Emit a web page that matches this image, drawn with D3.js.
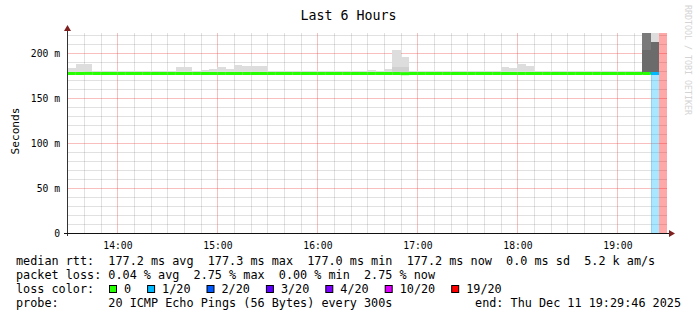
<!DOCTYPE html>
<html>
<head>
<meta charset="utf-8">
<style>
  body { margin: 0; background: #fff; }
  svg { display: block; }
  text { font-family: "DejaVu Sans Mono", monospace; fill: #000; }
</style>
</head>
<body>
<div id="container"></div>
<script src="https://cdn.jsdelivr.net/npm/d3@7"></script>
<script>

const width = 697;
const height = 321;

// plot area (canvas) in pixels
const plot = { left: 67, right: 667, top: 33, bottom: 233 };

// time range of the graph
const tStart = new Date(2025, 11, 11, 13, 29, 46);
const tEnd = new Date(2025, 11, 11, 19, 29, 46);

// 5 minute rrd steps (start of each step), 13:30 .. 19:25
const slots = d3.timeMinute.every(5).range(new Date(2025, 11, 11, 13, 30), new Date(2025, 11, 11, 19, 30));

// median rtt per step, ms
const median = [
  177.2, 177.2, 177.3, 177.2, 177.2, 177.2, 177.2, 177.2, 177.2, 177.2, 177.2, 177.2,
  177.2, 177.2, 177.2, 177.2, 177.2, 177.2, 177.2, 177.2, 177.2, 177.2, 177.2, 177.2,
  177.2, 177.2, 177.2, 177.2, 177.2, 177.2, 177.2, 177.2, 177.2, 177.2, 177.2, 177.2,
  177.2, 177.2, 177.2, 177.2, 177.0, 177.2, 177.2, 177.2, 177.2, 177.2, 177.2, 177.2,
  177.2, 177.2, 177.2, 177.2, 177.2, 177.2, 177.2, 177.2, 177.2, 177.2, 177.2, 177.2,
  177.2, 177.2, 177.2, 177.2, 177.2, 177.2, 177.2, 177.2, 177.2, 177.2, 177.2, null
];

// slowest ping per step (outer smoke), ms
const smokeMax = [
  183, 187.4, 188, 180, 179.5, 179.5, 179.5, 179.5, 179.5, 179.5, 179.5, 179.5,
  179.5, 184, 184, 179.5, 180.7, 182.6, 184.8, 182.3, 187, 185.5, 185.5, 185.2,
  179.7, 179.5, 179.5, 179.5, 179.5, 179.5, 179.5, 179.5, 179.5, 180, 180, 179.5,
  181, 179.5, 182.6, 203.7, 195.6, 179.5, 179.5, 179.5, 179.5, 179.5, 179.5, 180,
  180, 179.5, 179.5, 179.5, 184.4, 183.3, 187.4, 185.9, 179.5, 179.5, 179.5, 179.5,
  179.5, 179.5, 179.5, 179.5, 179.5, 179.5, 179.5, 179.5, 179.5, 223, 223, null
];

// inner smoke bands: [step, ms]
const smokeMid = [[39, 184], [40, 184]];
const smokeDarkOuter = [[69, 223]];
const smokeDarkInner = [[69, 203.3], [70, 212.6]];

// lost pings (of 20) per step
const loss = [
  0, 0, 0, 0, 0, 0, 0, 0, 0, 0, 0, 0,
  0, 0, 0, 0, 0, 0, 0, 0, 0, 0, 0, 0,
  0, 0, 0, 0, 0, 0, 0, 0, 0, 0, 0, 0,
  0, 0, 0, 0, 0, 0, 0, 0, 0, 0, 0, 0,
  0, 0, 0, 0, 0, 0, 0, 0, 0, 0, 0, 0,
  0, 0, 0, 0, 0, 0, 0, 0, 0, 0, 1, 20
];

// loss legend
const lossSteps = [0, 1, 2, 3, 4, 10, 19];
const lossLabels = ["0", "1/20", "2/20", "3/20", "4/20", "10/20", "19/20"];
const lossColors = ["#26ff00", "#00b8ff", "#0059ff", "#5e00ff", "#7e00ff", "#dd00ff", "#ff0000"];

// y ticks
const yMajor = [0, 50, 100, 150, 200];
const yMinor = d3.range(0, 230, 10);

// legend text
const rttLine = "median rtt:  177.2 ms avg  177.3 ms max  177.0 ms min  177.2 ms now  0.0 ms sd  5.2 k am/s";
const lossLine = "packet loss: 0.04 % avg  2.75 % max  0.00 % min  2.75 % now";
const probeLine = "probe:       20 ICMP Echo Pings (56 Bytes) every 300s";

const x = d3.scaleTime().domain([tStart, tEnd]).range([plot.left, plot.right]);
const y = d3.scaleLinear().domain([0, 222.2]).range([plot.bottom, plot.top]);

const lossColor = n => lossColors[d3.bisectRight(lossSteps, n) - 1];
const slotEnd = d => d3.timeMinute.offset(d, 5);
const keepSpaces = s => s.replace(/ /g, "\u00a0");

const svg = d3.create("svg")
    .attr("width", width)
    .attr("height", height);

svg.append("rect").attr("width", width).attr("height", height).attr("fill", "#fff");

svg.append("defs").append("clipPath").attr("id", "clip")
  .append("rect")
  .attr("x", plot.left).attr("y", plot.top)
  .attr("width", plot.right - plot.left).attr("height", plot.bottom - plot.top);

// grid
const minorTimes = d3.timeMinute.every(10).range(tStart, tEnd).filter(d => d.getMinutes() !== 0);
const hours = d3.timeHour.range(tStart, tEnd);

svg.append("g")
  .attr("transform", `translate(0,${plot.bottom})`)
  .call(d3.axisBottom(x).tickValues(minorTimes).tickSize(-(plot.bottom - plot.top)).tickFormat(""))
  .call(g => g.select(".domain").remove())
  .call(g => g.selectAll("line").attr("stroke", "rgba(120,120,120,0.22)").attr("shape-rendering", "crispEdges"));

svg.append("g")
  .attr("transform", `translate(${plot.left},0)`)
  .call(d3.axisLeft(y).tickValues(yMinor.filter(v => v % 50 !== 0)).tickSize(-(plot.right - plot.left)).tickFormat(""))
  .call(g => g.select(".domain").remove())
  .call(g => g.selectAll("line").attr("stroke", "rgba(120,120,120,0.22)").attr("shape-rendering", "crispEdges"));

svg.append("g")
  .attr("transform", `translate(0,${plot.bottom})`)
  .call(d3.axisBottom(x).tickValues(hours).tickSize(-(plot.bottom - plot.top)).tickFormat(""))
  .call(g => g.select(".domain").remove())
  .call(g => g.selectAll("line").attr("stroke", "rgba(235,40,40,0.3)").attr("shape-rendering", "crispEdges"));

svg.append("g")
  .attr("transform", `translate(${plot.left},0)`)
  .call(d3.axisLeft(y).tickValues(yMajor.filter(v => v > 0)).tickSize(-(plot.right - plot.left)).tickFormat(""))
  .call(g => g.select(".domain").remove())
  .call(g => g.selectAll("line").attr("stroke", "rgba(235,40,40,0.3)").attr("shape-rendering", "crispEdges"));

// smoke
const chart = svg.append("g").attr("clip-path", "url(#clip)");

function smoke(pairs, color) {
  chart.append("g")
    .selectAll("rect")
    .data(pairs.filter(p => p[1] != null && median[p[0]] != null))
    .join("rect")
      .attr("x", p => x(slots[p[0]]))
      .attr("width", p => x(slotEnd(slots[p[0]])) - x(slots[p[0]]))
      .attr("y", p => y(p[1]))
      .attr("height", p => y(median[p[0]]) - y(p[1]))
      .attr("fill", color)
      .attr("shape-rendering", "crispEdges");
}

smoke(smokeMax.map((v, i) => [i, v]), "#dddddd");
smoke(smokeMid, "#d0d0d0");
smoke(smokeDarkOuter, "#7a7a7a");
smoke(smokeDarkInner, "#6b6b6b");

// loss shading
chart.append("g")
  .selectAll("rect")
  .data(slots.map((d, i) => i).filter(i => loss[i] > 0))
  .join("rect")
    .attr("x", i => x(slots[i]))
    .attr("width", i => x(slotEnd(slots[i])) - x(slots[i]))
    .attr("y", i => median[i] == null ? plot.top : y(median[i]))
    .attr("height", i => plot.bottom - (median[i] == null ? plot.top : y(median[i])))
    .attr("fill", i => lossColor(loss[i]))
    .attr("fill-opacity", 0.34)
    .attr("shape-rendering", "crispEdges");

// median line, coloured by loss
chart.append("g")
  .selectAll("line")
  .data(slots.map((d, i) => i).filter(i => median[i] != null))
  .join("line")
    .attr("x1", i => x(slots[i]))
    .attr("x2", i => x(slotEnd(slots[i])))
    .attr("y1", i => y(median[i]))
    .attr("y2", i => y(median[i]))
    .attr("stroke", i => lossColor(loss[i]))
    .attr("stroke-width", 3);

// axes
svg.append("line")
  .attr("x1", plot.left + 0.5).attr("x2", plot.left + 0.5)
  .attr("y1", plot.bottom + 3).attr("y2", plot.top - 3)
  .attr("stroke", "#333");
svg.append("line")
  .attr("x1", plot.left - 3).attr("x2", plot.right + 3)
  .attr("y1", plot.bottom + 0.5).attr("y2", plot.bottom + 0.5)
  .attr("stroke", "#111");
svg.append("path")
  .attr("d", `M${plot.left - 3},${plot.top - 2} L${plot.left + 0.5},${plot.top - 8} L${plot.left + 4},${plot.top - 2} Z`)
  .attr("fill", "#7f1f1f");
svg.append("path")
  .attr("d", `M${plot.right + 2},${plot.bottom - 3} L${plot.right + 8},${plot.bottom + 0.5} L${plot.right + 2},${plot.bottom + 4} Z`)
  .attr("fill", "#7f1f1f");

// tick labels
svg.append("g")
  .attr("transform", `translate(0,${plot.bottom})`)
  .call(d3.axisBottom(x).tickValues(hours).tickSize(0).tickPadding(8).tickFormat(d3.timeFormat("%H:%M")))
  .call(g => g.select(".domain").remove())
  .call(g => g.selectAll("text").attr("font-size", 9.7).attr("font-family", "DejaVu Sans Mono").attr("dy", "0.8em"));

svg.append("g")
  .attr("transform", `translate(${plot.left},0)`)
  .call(d3.axisLeft(y).tickValues(yMajor).tickSize(0).tickPadding(7).tickFormat(v => v === 0 ? "0" : keepSpaces(v + " m")))
  .call(g => g.select(".domain").remove())
  .call(g => g.selectAll("text").attr("font-size", 9.7).attr("font-family", "DejaVu Sans Mono"));

// title and labels
svg.append("text")
  .attr("x", 348.5).attr("y", 20)
  .attr("text-anchor", "middle")
  .attr("font-size", 13.3)
  .text("Last 6 Hours");

svg.append("text")
  .attr("transform", "translate(19,131) rotate(-90)")
  .attr("text-anchor", "middle")
  .attr("font-size", 11.2)
  .text("Seconds");

svg.append("text")
  .attr("transform", "translate(685,5) rotate(90)")
  .attr("font-size", 8.3)
  .style("fill", "#d4d4d4")
  .text("RRDTOOL / TOBI OETIKER");

// legend
const charW = 7.1;
const leg = svg.append("g").attr("font-size", 11.8);

leg.append("text").attr("x", 16).attr("y", 265.3).text(keepSpaces(rttLine));
leg.append("text").attr("x", 16).attr("y", 279.3).text(keepSpaces(lossLine));
leg.append("text").attr("x", 16).attr("y", 293.3).text("loss color:");
leg.append("text").attr("x", 16).attr("y", 307.3).text(keepSpaces(probeLine));
leg.append("text").attr("x", 681).attr("y", 307.3).attr("text-anchor", "end")
  .text(keepSpaces("end: " + d3.timeFormat("%a %b %d %H:%M:%S %Y")(tEnd)));

let bx = 109;
lossLabels.forEach((label, i) => {
  leg.append("rect")
    .attr("x", bx + 0.5).attr("y", 285.5)
    .attr("width", 7).attr("height", 7)
    .attr("fill", lossColors[i])
    .attr("stroke", "#000");
  leg.append("text").attr("x", bx + 15).attr("y", 293.3).text(label);
  bx = bx + 15 + label.length * charW + 16;
});

container.append(svg.node());

</script>
</body>
</html>
